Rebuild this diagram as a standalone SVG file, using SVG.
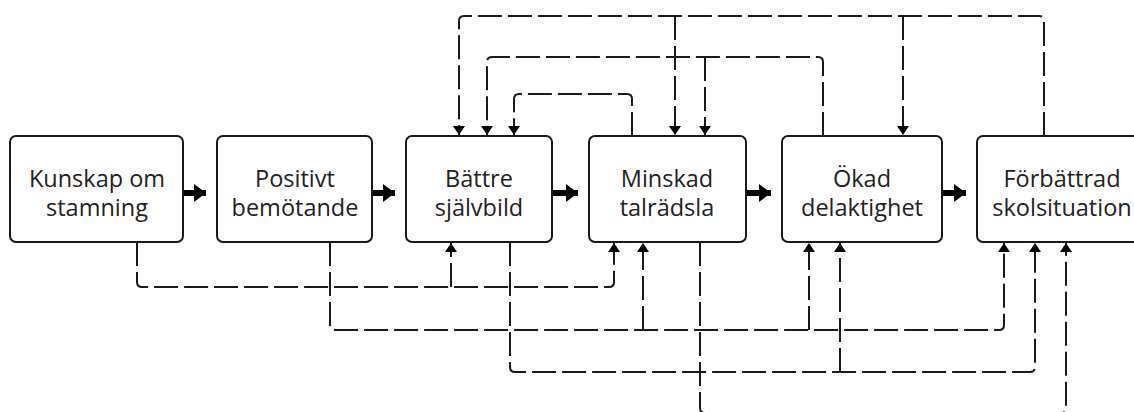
<svg xmlns="http://www.w3.org/2000/svg" width="1134" height="412" viewBox="0 0 1134 412">
  <defs>
    <style>
      .box { fill: #ffffff; stroke: #1a1a1a; stroke-width: 2; }
      .lbl { font-family: "Open Sans", "Noto Sans", "Liberation Sans", sans-serif; font-size: 23.5px; fill: #222222; text-anchor: middle; }
      .dash { fill: none; stroke: #1a1a1a; stroke-width: 2; stroke-dasharray: 24 6; }
      .thick { fill: none; stroke: #000000; stroke-width: 6; }
    </style>
    <marker id="ah" markerUnits="userSpaceOnUse" viewBox="0 0 9 12" markerWidth="9" markerHeight="12" refX="9" refY="6" orient="auto">
      <path d="M0,0 L9,6 L0,12 z" fill="#000000"/>
    </marker>
    <marker id="ahT" markerUnits="userSpaceOnUse" viewBox="0 0 12 18" markerWidth="12" markerHeight="18" refX="12" refY="9" orient="auto">
      <path d="M0,0 L12,9 L0,18 z" fill="#000000"/>
    </marker>
  </defs>
  <rect width="1134" height="412" fill="#ffffff"/>

  <g id="connectors">
    <!-- thick forward arrows -->
    <path class="thick" d="M183,193 H206" marker-end="url(#ahT)"/>
    <path class="thick" d="M372,193 H395" marker-end="url(#ahT)"/>
    <path class="thick" d="M552,193 H578" marker-end="url(#ahT)"/>
    <path class="thick" d="M746,193 H771" marker-end="url(#ahT)"/>
    <path class="thick" d="M942,193 H966" marker-end="url(#ahT)"/>

    <!-- top: from Förbättrad skolsituation -->
    <path class="dash" d="M1044,136 V21 Q1044,16 1039,16 H464 Q459,16 459,21 V135" marker-end="url(#ah)"/>
    <path class="dash" d="M903,16 V135" marker-end="url(#ah)"/>
    <path class="dash" d="M675,16 V135" marker-end="url(#ah)"/>
    <!-- top: from Ökad delaktighet -->
    <path class="dash" d="M823,136 V62 Q823,57 818,57 H492 Q487,57 487,62 V135" marker-end="url(#ah)"/>
    <path class="dash" d="M705,57 V135" marker-end="url(#ah)"/>
    <!-- top: from Minskad talrädsla -->
    <path class="dash" d="M632,136 V99 Q632,94 627,94 H519 Q514,94 514,99 V135" marker-end="url(#ah)"/>

    <!-- bottom: from Kunskap om stamning -->
    <path class="dash" d="M137,242 V282 Q137,287 142,287 H609 Q614,287 614,282 V243" marker-end="url(#ah)"/>
    <path class="dash" d="M451,287 V243" marker-end="url(#ah)"/>
    <!-- bottom: from Positivt bemötande -->
    <path class="dash" d="M330,242 V325 Q330,330 335,330 H999 Q1004,330 1004,325 V243" marker-end="url(#ah)"/>
    <path class="dash" d="M643,330 V243" marker-end="url(#ah)"/>
    <path class="dash" d="M809,330 V243" marker-end="url(#ah)"/>
    <!-- bottom: from Bättre självbild -->
    <path class="dash" d="M510,242 V367 Q510,372 515,372 H1030 Q1035,372 1035,367 V243" marker-end="url(#ah)"/>
    <path class="dash" d="M840,372 V243" marker-end="url(#ah)"/>
    <!-- bottom: from Minskad talrädsla -->
    <path class="dash" d="M700,242 V408 Q700,413 705,413 H1061 Q1066,413 1066,408 V243" marker-end="url(#ah)"/>
  </g>

  <g id="n1">
    <rect class="box" x="10" y="136" width="173" height="106" rx="6"/>
    <text class="lbl" x="97" y="187">Kunskap om</text>
    <text class="lbl" x="97" y="216">stamning</text>
  </g>
  <g id="n2">
    <rect class="box" x="217" y="136" width="155" height="106" rx="6"/>
    <text class="lbl" x="295" y="187">Positivt</text>
    <text class="lbl" x="295" y="216">bemötande</text>
  </g>
  <g id="n3">
    <rect class="box" x="406" y="136" width="146" height="106" rx="6"/>
    <text class="lbl" x="479" y="187">Bättre</text>
    <text class="lbl" x="479" y="216">självbild</text>
  </g>
  <g id="n4">
    <rect class="box" x="589" y="136" width="157" height="106" rx="6"/>
    <text class="lbl" x="667" y="187">Minskad</text>
    <text class="lbl" x="667" y="216">talrädsla</text>
  </g>
  <g id="n5">
    <rect class="box" x="782" y="136" width="160" height="106" rx="6"/>
    <text class="lbl" x="862" y="187">Ökad</text>
    <text class="lbl" x="862" y="216">delaktighet</text>
  </g>
  <g id="n6">
    <rect class="box" x="977" y="136" width="172" height="106" rx="6"/>
    <text class="lbl" x="1062" y="187">Förbättrad</text>
    <text class="lbl" x="1062" y="216">skolsituation</text>
  </g>
</svg>
